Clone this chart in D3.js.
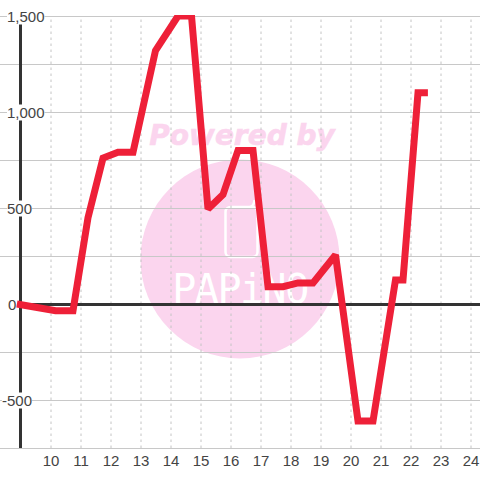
<!DOCTYPE html>
<html>
<head>
<meta charset="utf-8">
<script src="https://cdn.jsdelivr.net/npm/d3@7/dist/d3.min.js"></script>
<style>
html,body{margin:0;padding:0;background:#fff;}
svg{display:block;}
text{font-family:"Liberation Sans",Arial,sans-serif;}
</style>
</head>
<body>
<div id="chart"></div>
<script>
const hours = [8.88,10.17,10.75,11.25,11.75,12.25,12.75,13.5,14.25,14.7,15.25,15.75,16.25,16.75,17.25,17.75,18.25,18.75,19.5,20.25,20.75,21.5,21.75,22.25,22.58];
const values = [0,-35,-35,450,760,790,790,1320,1500,1500,495,570,800,800,90,90,110,110,255,-610,-610,125,125,1100,1100];
const xTicks = [10,11,12,13,14,15,16,17,18,19,20,21,22,23,24];
const yGrid = [1500,1250,1000,750,500,250,0,-250,-500,-750];
const yLabels = [1500,1000,500,0,-500];

const W = 480, H = 480;
const x = d3.scaleLinear().domain([10,24]).range([50.5,470.5]);
const y = d3.scaleLinear().domain([1500,-750]).range([16,448]);
const svg = d3.select("#chart").append("svg").attr("width",W).attr("height",H);

const pink = "#fbd5ee";
const wm = svg.append("g");
wm.append("circle").attr("cx",240).attr("cy",259).attr("r",99.5).attr("fill",pink);
wm.append("text").attr("x",242).attr("y",145).attr("text-anchor","middle")
  .style("font-family","'DejaVu Sans'").style("font-weight","bold").style("font-style","oblique")
  .style("font-size","28px").attr("fill",pink).attr("stroke",pink).attr("stroke-width",0.6).text("Powered by");
wm.append("rect").attr("x",225.5).attr("y",207).attr("width",32).attr("height",50).attr("rx",5)
  .attr("fill","none").attr("stroke","#fff").attr("stroke-width",2.5);
wm.append("path").attr("d","M250 207Q254 206 254.5 200").attr("fill","none").attr("stroke","#fff").attr("stroke-width",2.5);
wm.append("text").attr("x",240).attr("y",303).attr("text-anchor","middle")
  .style("font-family","'DejaVu Sans Mono'").style("font-size","40px").style("letter-spacing","-1.5px")
  .attr("fill","#fff").text("PAPiNO");

// vertical dashed grid + x labels
const xAxis = svg.append("g").attr("transform","translate(0,448)")
  .call(d3.axisBottom(x).tickValues(xTicks).tickFormat(d3.format("d")).tickSize(-432));
xAxis.select(".domain").remove();
xAxis.selectAll("line").attr("stroke","#c4c4c4").attr("stroke-dasharray","2.5 3.5");
xAxis.selectAll("text").attr("fill","#444").style("font-size","15px").attr("y",7).attr("dy","0.71em");

// horizontal grid
const yAxis = svg.append("g")
  .call(d3.axisRight(y).tickValues(yGrid).tickFormat("").tickSize(W));
yAxis.select(".domain").remove();
yAxis.selectAll("line").attr("stroke",d=>d===0?"none":"#c8c8c8");

// axis and zero lines
svg.append("line").attr("x1",x(9)).attr("x2",x(9)).attr("y1",y(1500)).attr("y2",y(-750))
  .attr("stroke","#333").attr("stroke-width",3);
svg.append("line").attr("x1",x(9)).attr("x2",W).attr("y1",y(0)+0.5).attr("y2",y(0)+0.5)
  .attr("stroke","#333").attr("stroke-width",3);

// y labels with white background
const labelAxis = svg.append("g")
  .call(d3.axisRight(y).tickValues(yLabels).tickFormat(d=>d3.format(",")(d).replace("\u2212","-")).tickSize(0));
labelAxis.select(".domain").remove();
labelAxis.selectAll("text").attr("x",d=>d<0?2:(d===0?8:7)).attr("text-anchor","start")
  .attr("fill","#444").style("font-size","15px").attr("dy","0.34em");
labelAxis.selectAll(".tick").filter(d=>d!==0).each(function(){
  const b = d3.select(this).select("text").node().getBBox();
  d3.select(this).insert("rect","text").attr("x",b.x).attr("y",-8).attr("width",b.width).attr("height",16).attr("fill","#fff");
});

// line
svg.append("clipPath").attr("id","plot").append("rect").attr("x",0).attr("y",15).attr("width",W).attr("height",433);
const line = d3.line().x((d,i)=>x(hours[i])).y(d=>y(d));
svg.append("path").datum(values).attr("d",line).attr("clip-path","url(#plot)")
  .attr("fill","none").attr("stroke","#ee2038").attr("stroke-width",7)
  .attr("stroke-linejoin","miter").attr("stroke-miterlimit",2);
</script>
</body>
</html>
